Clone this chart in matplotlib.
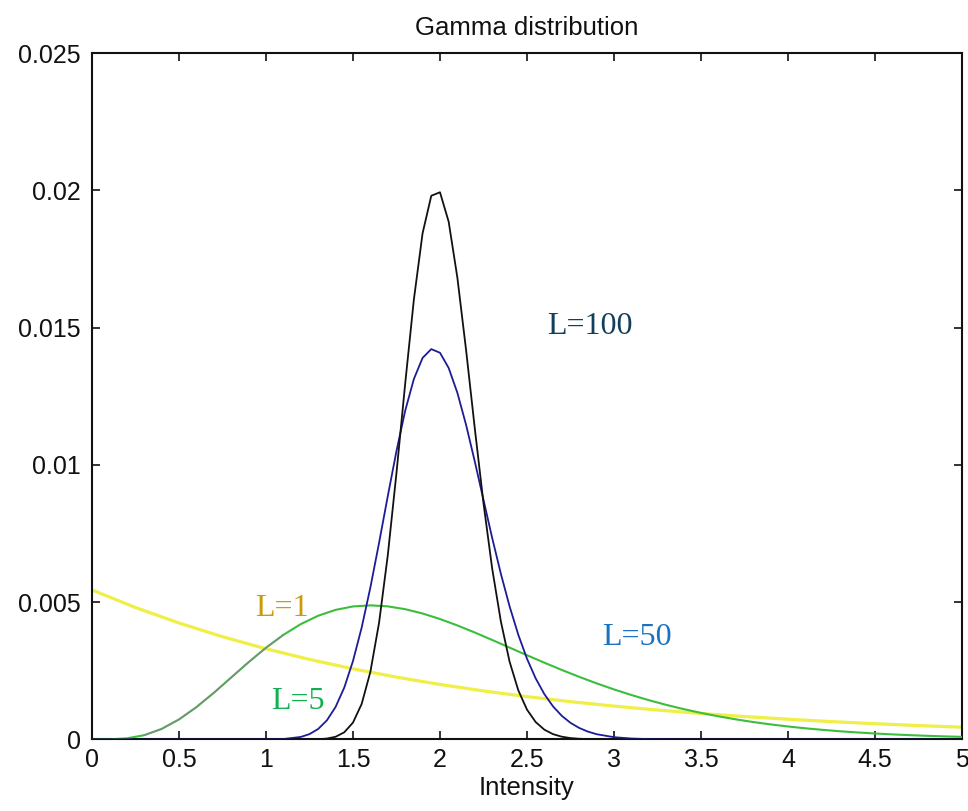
import numpy as np
import matplotlib
matplotlib.use("Agg")
import matplotlib.pyplot as plt

plt.rcParams['font.family'] = ['Liberation Sans', 'DejaVu Sans']

# Values are stored in units of 1e-3
SCALE = 1e-3

# L = 1
x_l1 = [0, 0.25, 0.5, 0.75, 1.0, 1.25, 1.5, 1.75, 2.0, 2.25, 2.5,
        2.75, 3.0, 3.25, 3.5, 3.75, 4.0, 4.25, 4.5, 4.75, 5.0]
y_l1 = [5.446, 4.806, 4.241, 3.743, 3.303, 2.915, 2.573, 2.270, 2.003, 1.768, 1.560,
        1.377, 1.215, 1.072, 0.946, 0.835, 0.737, 0.650, 0.574, 0.506, 0.447]

# L = 5
x_l5 = [0, 0.1, 0.2, 0.3, 0.4, 0.5, 0.6, 0.7, 0.8, 0.9,
        1.0, 1.1, 1.2, 1.3, 1.4, 1.5, 1.6, 1.7, 1.8, 1.9,
        2.0, 2.1, 2.2, 2.3, 2.4, 2.5, 2.6, 2.7, 2.8, 2.9,
        3.0, 3.1, 3.2, 3.3, 3.4, 3.5, 3.6, 3.7, 3.8, 3.9,
        4.0, 4.1, 4.2, 4.3, 4.4, 4.5, 4.6, 4.7, 4.8, 4.9, 5.0]
y_l5 = [0.0, 0.003, 0.040, 0.156, 0.383, 0.729, 1.177, 1.698, 2.256, 2.814,
        3.340, 3.809, 4.201, 4.506, 4.720, 4.845, 4.884, 4.848, 4.745, 4.588,
        4.387, 4.153, 3.896, 3.624, 3.346, 3.068, 2.796, 2.532, 2.281, 2.044,
        1.823, 1.619, 1.431, 1.261, 1.106, 0.968, 0.843, 0.733, 0.635, 0.549,
        0.473, 0.407, 0.349, 0.298, 0.255, 0.217, 0.185, 0.157, 0.133, 0.112, 0.095]

# L = 50
x_l50 = [0, 0.5, 1.0, 1.1, 1.2, 1.25, 1.3, 1.35, 1.4, 1.45, 1.5, 1.55, 1.6, 1.65,
         1.7, 1.75, 1.8, 1.85, 1.9, 1.95, 2.0, 2.05, 2.1, 2.15, 2.2, 2.25,
         2.3, 2.35, 2.4, 2.45, 2.5, 2.55, 2.6, 2.65, 2.7, 2.75, 2.8, 2.85,
         2.9, 3.0, 3.1, 3.2, 3.3, 3.5, 4.0, 5.0]
y_l50 = [0.0, 0.0, 0.002, 0.016, 0.092, 0.195, 0.382, 0.695, 1.183, 1.891, 2.855, 4.076, 5.535, 7.163,
         8.860, 10.506, 11.970, 13.129, 13.896, 14.217, 14.084, 13.530, 12.625, 11.459, 10.126, 8.728,
         7.341, 6.033, 4.849, 3.815, 2.942, 2.224, 1.650, 1.202, 0.861, 0.606, 0.420, 0.286,
         0.192, 0.083, 0.034, 0.013, 0.005, 0.001, 0.0, 0.0]

# L = 100
x_l100 = [0, 1.0, 1.3, 1.35, 1.4, 1.45, 1.5, 1.55, 1.6, 1.65, 1.7, 1.75, 1.8, 1.85,
          1.9, 1.95, 2.0, 2.05, 2.1, 2.15, 2.2, 2.25, 2.3, 2.35, 2.4, 2.45,
          2.5, 2.55, 2.6, 2.65, 2.7, 2.75, 2.8, 2.9, 3.0, 5.0]
y_l100 = [0.0, 0.0, 0.010, 0.033, 0.098, 0.261, 0.614, 1.294, 2.462, 4.252, 6.704, 9.705, 12.955, 16.022,
          18.434, 19.802, 19.930, 18.856, 16.819, 14.185, 11.335, 8.609, 6.225, 4.296, 2.834, 1.792,
          1.087, 0.634, 0.356, 0.193, 0.101, 0.051, 0.025, 0.005, 0.001, 0.0]

xticks = [0, 0.5, 1, 1.5, 2, 2.5, 3, 3.5, 4, 4.5, 5]
xtick_labels = ['0', '0.5', '1', '1.5', '2', '2.5', '3', '3.5', '4', '4.5', '5']
yticks = [0, 0.005, 0.01, 0.015, 0.02, 0.025]
ytick_labels = ['0', '0.005', '0.01', '0.015', '0.02', '0.025']

# Curve annotations: text, x, y, colour
annotations = [
    ('L=100', 2.615, 0.01476, '#123F5C'),
    ('L=1', 0.937, 0.00450, '#CC9A06'),
    ('L=5', 1.03, 0.00110, '#10B050'),
    ('L=50', 2.93, 0.00345, '#1A72C0'),
]

fig = plt.figure(figsize=(9.68, 8.11), dpi=100)
ax = fig.add_axes([0.0950, 0.0882, 0.8988, 0.8464])

ax.plot(x_l1, np.array(y_l1) * SCALE, color='#EFEF48', lw=2.3, zorder=2)
ax.plot(x_l5, np.array(y_l5) * SCALE, color='#3CBE3C', lw=1.5, zorder=3)
# thin greyish stretch on the rising flank of L=5
ax.plot(x_l5[3:12], np.array(y_l5[3:12]) * SCALE, color='#7E8C84', lw=1.0, zorder=3.5)
ax.plot(x_l50, np.array(y_l50) * SCALE, color='#1C1C96', lw=1.3, zorder=4)
ax.plot(x_l100, np.array(y_l100) * SCALE, color='#111111', lw=1.3, zorder=5)

for txt, tx, ty, col in annotations:
    ax.text(tx, ty, txt, color=col, fontsize=23, family=['Liberation Serif', 'DejaVu Serif'],
            ha='left', va='baseline', zorder=6)

ax.set_xlim(0, 5)
ax.set_ylim(0, 0.025)
ax.set_xticks(xticks)
ax.set_xticklabels(xtick_labels)
ax.set_yticks(yticks)
ax.set_yticklabels(ytick_labels)

ax.tick_params(direction='in', length=6, width=1.2, top=True, right=True,
               labelsize=18, colors='#111111')
ax.tick_params(axis='x', pad=6)
ax.tick_params(axis='y', pad=8)
for sp in ax.spines.values():
    sp.set_linewidth(1.5)
    sp.set_color('#111111')

ax.set_title('Gamma distribution', fontsize=18.5, pad=13, color='#111111')
ax.set_xlabel('Intensity', fontsize=18.5, labelpad=3, color='#111111')

fig.savefig('out.png', dpi=100, facecolor='white')
